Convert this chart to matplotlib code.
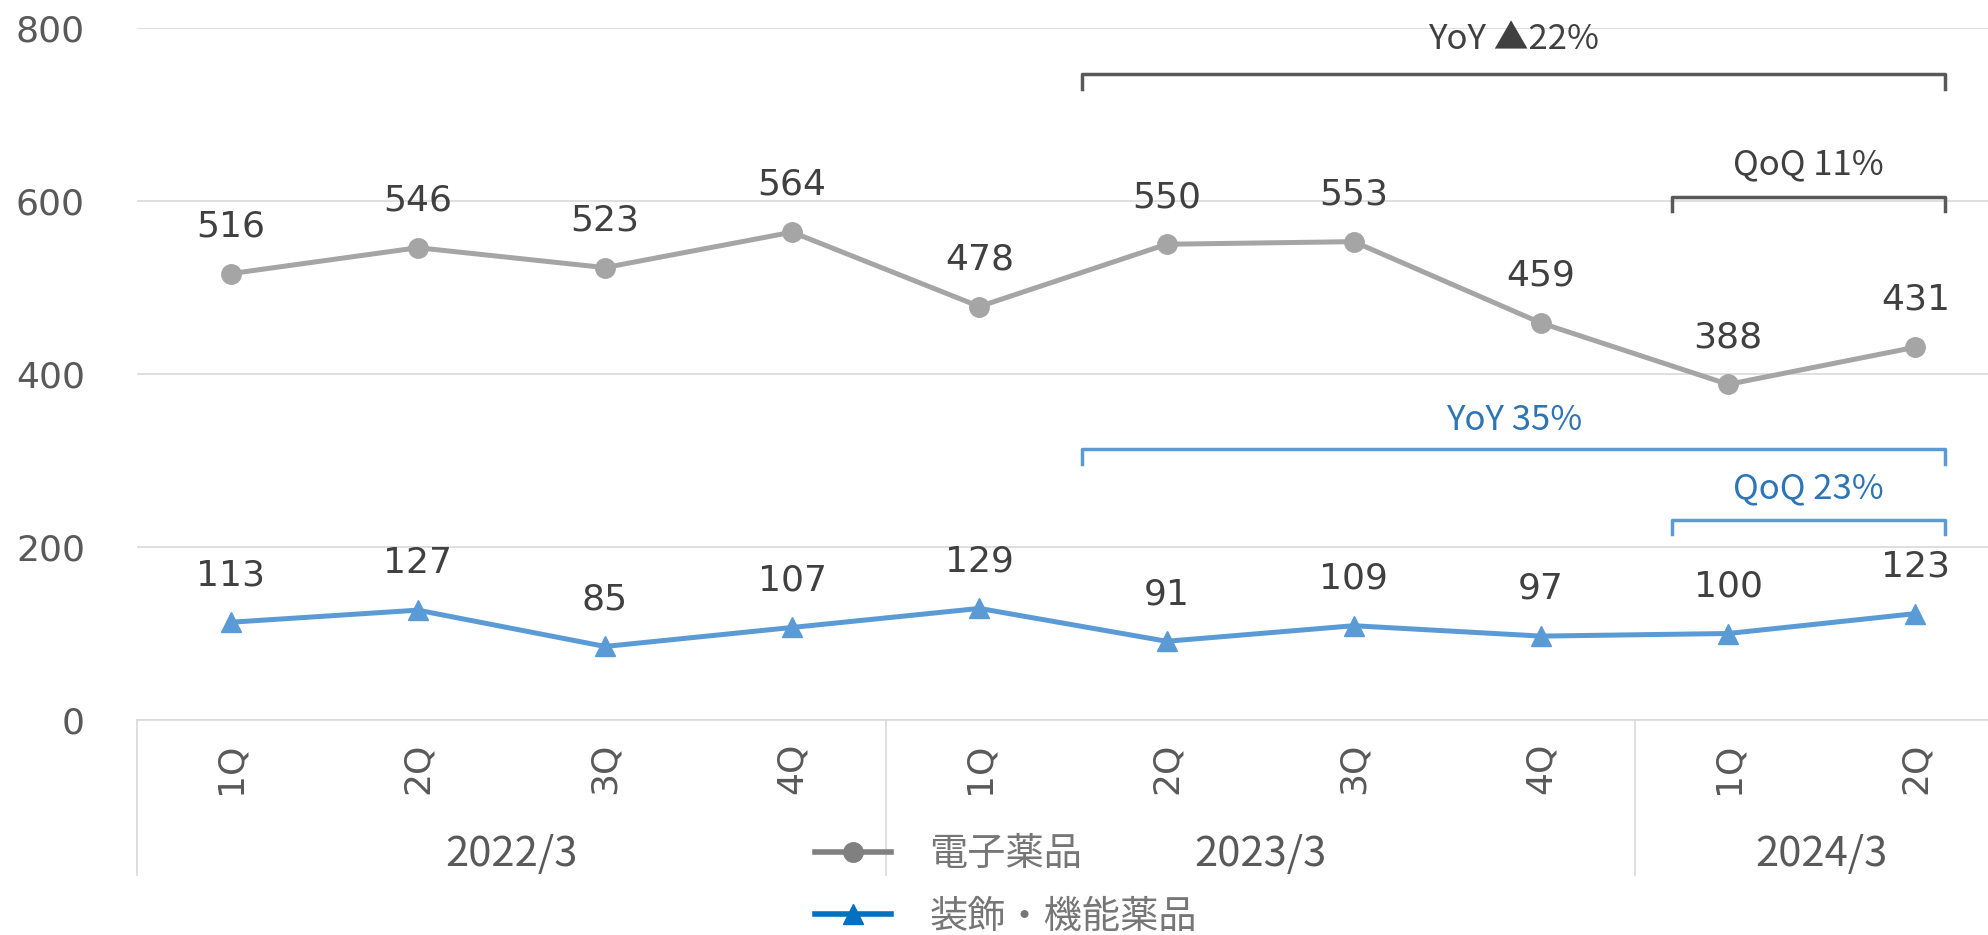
import matplotlib
matplotlib.use("Agg")
import matplotlib.pyplot as plt
from matplotlib.lines import Line2D
import matplotlib.transforms as mtrans

plt.rcParams['font.family'] = 'DejaVu Sans'

quarters = ["1Q", "2Q", "3Q", "4Q", "1Q", "2Q", "3Q", "4Q", "1Q", "2Q"]
years = ["2022/3", "2023/3", "2024/3"]
year_groups = [(0, 3), (4, 7), (8, 9)]
electronic = [516, 546, 523, 564, 478, 550, 553, 459, 388, 431]
decorative = [113, 127, 85, 107, 129, 91, 109, 97, 100, 123]
series_names = ["電子薬品", "装飾・機能薬品"]
yticks = [0, 200, 400, 600, 800]

GRAY_LINE = "#A5A5A5"
BLUE_LINE = "#5B9BD5"
NARROW = ['Liberation Sans Narrow', 'Noto Sans CJK JP']

fig = plt.figure(figsize=(19.88, 9.35), dpi=100)
ax = fig.add_axes([137/1988, 215/935, 1872/1988, 692/935])
x = list(range(len(quarters)))

ax.plot(x, electronic, color=GRAY_LINE, lw=3.6, marker='o', ms=14, zorder=3, clip_on=False)
ax.plot(x, decorative, color=BLUE_LINE, lw=3.6, marker='^', ms=15, zorder=3, clip_on=False)

for xi, v in zip(x, electronic):
    ax.annotate(str(v), (xi, v), xytext=(0, 34), textcoords='offset points',
                ha='center', va='center', fontsize=26, color='#404040')
for xi, v in zip(x, decorative):
    ax.annotate(str(v), (xi, v), xytext=(0, 34), textcoords='offset points',
                ha='center', va='center', fontsize=26, color='#404040')

ax.set_xlim(-0.5, 9.5)
ax.set_ylim(0, 800)
ax.set_yticks(yticks)
ax.yaxis.grid(True, color='#D9D9D9', lw=1.2)
ax.set_axisbelow(True)
ax.tick_params(axis='y', length=0, labelleft=False)
ax.set_xticks([])
for s in ['top', 'right', 'left']:
    ax.spines[s].set_visible(False)
ax.spines['bottom'].set_color('#D9D9D9')
ax.spines['bottom'].set_linewidth(1.2)

ytrans = mtrans.blended_transform_factory(ax.transAxes, ax.transData)
for v in yticks:
    ax.text(-52/1872, v, str(v), transform=ytrans, ha='right', va='center_baseline',
            fontsize=26, color='#595959')

trans = mtrans.blended_transform_factory(ax.transData, ax.transAxes)
for xi, q in zip(x, quarters):
    ax.text(xi, -0.07, q, transform=trans, rotation=90, ha='center', va='center',
            fontsize=26, color='#595959')
for (a, b), yl in zip(year_groups, years):
    ax.text((a + b) / 2, -0.194, yl, transform=trans, ha='center', va='center',
            fontsize=30, color='#595959', family=NARROW)
for sep in [-0.5, 3.5, 7.5]:
    ax.plot([sep, sep], [0, -0.224], transform=trans, color='#D9D9D9', lw=1.2, clip_on=False)


def bracket(x0, x1, y, drop, color, label, tcolor, ty):
    ax.plot([x0, x0, x1, x1], [y - drop, y, y, y - drop], color=color, lw=2.5,
            clip_on=False, solid_joinstyle='round')
    ax.text((x0 + x1) / 2, ty, label, ha='center', va='center', fontsize=25,
            color=tcolor, family=NARROW)


bracket(4.55, 9.16, 747, 17, '#595959', 'YoY ▲22%', '#404040', 787)
bracket(7.70, 9.16, 605, 16, '#595959', 'QoQ 11%', '#404040', 642)
bracket(4.55, 9.16, 313, 17, BLUE_LINE, 'YoY 35%', '#2E75B6', 346)
bracket(7.70, 9.16, 231, 16, BLUE_LINE, 'QoQ 23%', '#2E75B6', 267)

handles = [Line2D([], [], color='#808080', lw=4, marker='o', ms=14),
           Line2D([], [], color='#0070C0', lw=4, marker='^', ms=15)]
leg = fig.legend(handles, series_names, loc='center left', bbox_to_anchor=(815/1988, 49/935),
                 frameon=False, handlelength=2.0, handletextpad=1.0,
                 labelspacing=0.62, borderpad=0, borderaxespad=0,
                 prop={'family': ['Noto Sans CJK JP'], 'size': 27.5})
for t in leg.get_texts():
    t.set_color('#767676')

fig.savefig("out.png", dpi=100)
